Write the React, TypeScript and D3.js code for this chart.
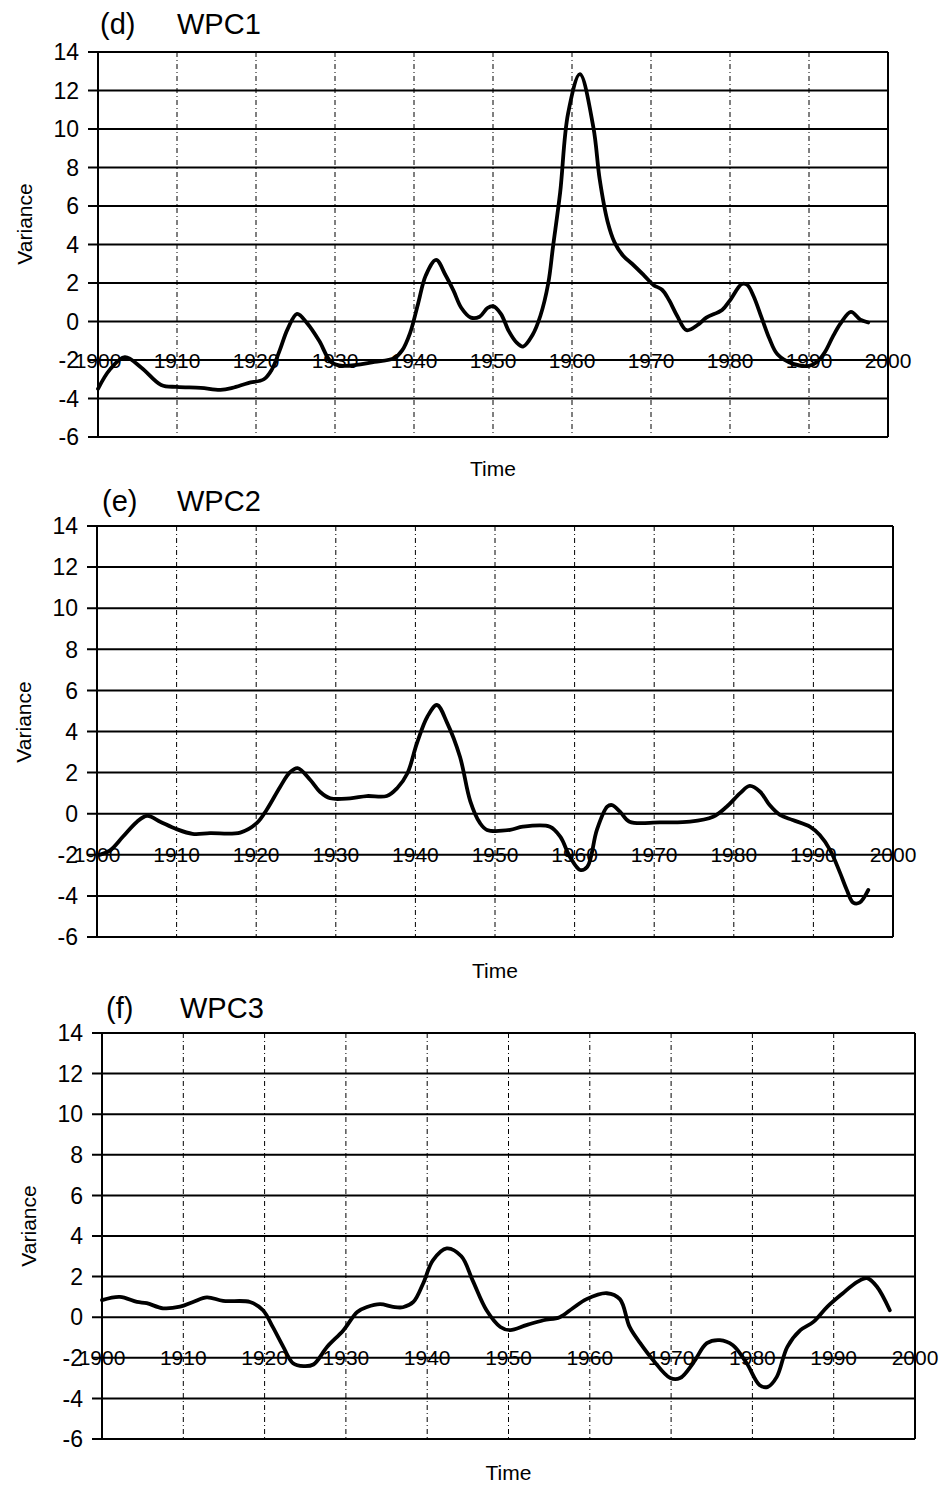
import React from "react";
import * as d3 from "d3";

// ---- data ----
const yTicks = [-6, -4, -2, 0, 2, 4, 6, 8, 10, 12, 14];
const xTicks = [1900, 1910, 1920, 1930, 1940, 1950, 1960, 1970, 1980, 1990, 2000];

const wpc1Years = [1900, 1901.5, 1903.4, 1905.5, 1908, 1910, 1913, 1915.5, 1917, 1919, 1921, 1922, 1923, 1924, 1925.2, 1926.5, 1928, 1929.5, 1931, 1935, 1937.5, 1938.5, 1939.5, 1940.5, 1941.5, 1942.8, 1944, 1945, 1946, 1947.2, 1948.3, 1949.3, 1950, 1951, 1952, 1953, 1953.8, 1955, 1956, 1957, 1957.6, 1958.5, 1959.5, 1961, 1962.7, 1963.5, 1964.5, 1965.4, 1966.5, 1967.6, 1969.1, 1970.3, 1971.4, 1972.3, 1973.3, 1974.5, 1976, 1977, 1979, 1980, 1981.5, 1982.2, 1983, 1984, 1985, 1986, 1988, 1990, 1991, 1992, 1993, 1994, 1995.3, 1996.5, 1997.5];
const wpc1Values = [-3.5, -2.5, -1.85, -2.4, -3.3, -3.4, -3.45, -3.55, -3.45, -3.2, -3.0, -2.5, -1.5, -0.4, 0.4, -0.1, -1.0, -2.1, -2.3, -2.1, -1.9, -1.5, -0.6, 0.9, 2.4, 3.2, 2.4, 1.6, 0.7, 0.2, 0.25, 0.7, 0.8, 0.4, -0.5, -1.1, -1.3, -0.7, 0.3, 2.0, 3.9, 6.7, 10.8, 12.85, 10.1, 7.4, 5.2, 4.1, 3.4, 3.0, 2.4, 1.9, 1.65, 1.1, 0.3, -0.45, -0.15, 0.2, 0.6, 1.1, 1.95, 1.9, 1.3, 0.2, -0.9, -1.7, -2.2, -2.3, -2.1, -1.6, -0.8, -0.1, 0.5, 0.1, -0.05];

const wpc2Years = [1900.3, 1901.6, 1903.3, 1905, 1906.3, 1908, 1910, 1912, 1914.2, 1918, 1920.1, 1921.3, 1923, 1924.2, 1925.2, 1926.8, 1928, 1929.3, 1931.8, 1933.9, 1936.4, 1937.7, 1939, 1940.2, 1941.5, 1942.7, 1944, 1945.6, 1946.9, 1948.1, 1949, 1951.9, 1953.5, 1956.9, 1958.2, 1959.4, 1960.7, 1961.6, 1962.8, 1964.1, 1964.7, 1965.7, 1966.9, 1970.7, 1974.5, 1977.4, 1979.1, 1980.8, 1982, 1983.3, 1984.5, 1985.8, 1987.4, 1989.6, 1990.8, 1992.1, 1993.3, 1994.2, 1995, 1995.8, 1996.9];
const wpc2Values = [-2.0, -1.8, -1.1, -0.4, -0.1, -0.4, -0.75, -0.98, -0.95, -0.92, -0.45, 0.18, 1.3, 2.0, 2.22, 1.64, 1.07, 0.75, 0.75, 0.86, 0.86, 1.24, 1.97, 3.44, 4.72, 5.29, 4.41, 2.77, 0.6, -0.45, -0.79, -0.79, -0.63, -0.63, -1.12, -2.09, -2.74, -2.58, -0.79, 0.34, 0.42, 0.1, -0.39, -0.42, -0.39, -0.15, 0.34, 1.0, 1.35, 1.07, 0.42, -0.06, -0.31, -0.64, -1.04, -1.77, -2.83, -3.71, -4.33, -4.33, -3.71];

const wpc3Years = [1900, 1902.2, 1904.3, 1905.5, 1907.5, 1909.6, 1911.2, 1912.9, 1914.9, 1918.2, 1919.8, 1921, 1922.3, 1923.5, 1924.8, 1926, 1927.7, 1929.7, 1931.4, 1932.6, 1934.2, 1935.8, 1937, 1938.3, 1939.5, 1940.7, 1942.4, 1944.2, 1945.6, 1947.3, 1949, 1950.2, 1952.2, 1954.3, 1956.3, 1957.9, 1959.6, 1962.1, 1963.7, 1964.9, 1966.2, 1967.8, 1969.9, 1971.1, 1972.7, 1974.4, 1976, 1977.6, 1979.3, 1980.9, 1981.9, 1983, 1984.3, 1985.9, 1987.5, 1989.2, 1991.1, 1992.9, 1994.1, 1995.3, 1996.9];
const wpc3Values = [0.84, 1.0, 0.75, 0.69, 0.44, 0.52, 0.75, 0.98, 0.8, 0.75, 0.34, -0.48, -1.46, -2.27, -2.41, -2.33, -1.46, -0.64, 0.26, 0.5, 0.64, 0.51, 0.49, 0.75, 1.66, 2.8, 3.39, 3.0, 1.8, 0.34, -0.48, -0.64, -0.39, -0.15, 0.0, 0.44, 0.89, 1.18, 0.89, -0.48, -1.28, -2.12, -3.0, -3.0, -2.27, -1.28, -1.13, -1.38, -2.27, -3.35, -3.43, -2.94, -1.46, -0.64, -0.23, 0.51, 1.17, 1.74, 1.92, 1.51, 0.34];

const panelLetters = ["(d)", "(e)", "(f)"];
const panelNames = ["WPC1", "WPC2", "WPC3"];
const seriesYears = [wpc1Years, wpc2Years, wpc3Years];
const seriesValues = [wpc1Values, wpc2Values, wpc3Values];

// ---- layout (not data) ----
const layouts = [
  { left: 98, right: 888, top: 52, bottom: 437, letterX: 100, nameX: 177, titleY: 34, varX: 24, varY: 224, timeY: 468 },
  { left: 97, right: 893, top: 526, bottom: 937, letterX: 102, nameX: 177, titleY: 511, varX: 23, varY: 722, timeY: 970 },
  { left: 102, right: 915, top: 1033, bottom: 1439, letterX: 106, nameX: 180, titleY: 1018, varX: 28, varY: 1226, timeY: 1472 },
];

const FONT = "'Liberation Sans', Arial, sans-serif";

function Panel({ i }: { i: number }) {
  const L = layouts[i];
  const x = d3.scaleLinear().domain([1900, 2000]).range([L.left, L.right]);
  const y = d3.scaleLinear().domain([-6, 14]).range([L.bottom, L.top]);
  const pts: [number, number][] = seriesYears[i].map((yr, k) => [yr, seriesValues[i][k]]);
  const line = d3
    .line<[number, number]>()
    .x((d) => x(d[0]))
    .y((d) => y(d[1]))
    .curve(d3.curveCatmullRom.alpha(0.5));
  return (
    <g>
      {xTicks.slice(1, -1).map((t) => (
        <line key={"v" + t} x1={x(t)} x2={x(t)} y1={L.top} y2={L.bottom} stroke="#000" strokeWidth={1} strokeDasharray="5,3,1,3" />
      ))}
      {yTicks.map((t) => (
        <line key={"h" + t} x1={L.left - 10} x2={L.right} y1={y(t)} y2={y(t)} stroke="#000" strokeWidth={2} />
      ))}
      <line x1={L.left} x2={L.left} y1={L.top} y2={L.bottom} stroke="#000" strokeWidth={2} />
      <line x1={L.right} x2={L.right} y1={L.top} y2={L.bottom} stroke="#000" strokeWidth={2} />
      {yTicks.map((t) => (
        <text key={"yl" + t} x={L.left - 19} y={y(t)} dy="0.36em" textAnchor="end" fontSize={23} fontFamily={FONT}>
          {t}
        </text>
      ))}
      {xTicks.map((t) => (
        <text key={"xl" + t} x={x(t)} y={y(-2)} dy="0.36em" textAnchor="middle" fontSize={21} fontFamily={FONT}>
          {t}
        </text>
      ))}
      <path d={line(pts) || ""} fill="none" stroke="#000" strokeWidth={3.8} strokeLinejoin="round" strokeLinecap="round" />
      <text x={L.letterX} y={L.titleY} fontSize={29} fontFamily={FONT}>
        {panelLetters[i]}
      </text>
      <text x={L.nameX} y={L.titleY} fontSize={29} fontFamily={FONT}>
        {panelNames[i]}
      </text>
      <text x={L.varX} y={L.varY} dy="0.36em" textAnchor="middle" fontSize={21} fontFamily={FONT} transform={`rotate(-90 ${L.varX} ${L.varY})`}>
        Variance
      </text>
      <text x={(L.left + L.right) / 2} y={L.timeY} dy="0.36em" textAnchor="middle" fontSize={21} fontFamily={FONT}>
        Time
      </text>
    </g>
  );
}

export default function App() {
  return (
    <svg width={944} height={1488} style={{ position: "absolute", left: 0, top: 0, background: "#fff" }}>
      <rect x={0} y={0} width={944} height={1488} fill="#fff" />
      {[0, 1, 2].map((i) => (
        <Panel key={i} i={i} />
      ))}
    </svg>
  );
}
